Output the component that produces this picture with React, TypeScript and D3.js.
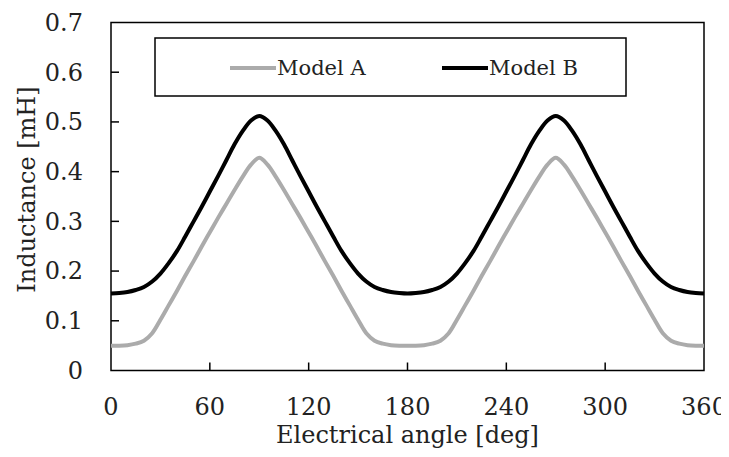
import React, { useRef, useEffect } from 'react';
import * as d3 from 'd3';

// electrical angle, deg (5 deg steps)
const angles = [
  0, 5, 10, 15, 20, 25, 30, 35, 40, 45, 50, 55, 60, 65, 70, 75, 80, 85, 90,
  95, 100, 105, 110, 115, 120, 125, 130, 135, 140, 145, 150, 155, 160, 165, 170, 175, 180,
  185, 190, 195, 200, 205, 210, 215, 220, 225, 230, 235, 240, 245, 250, 255, 260, 265, 270,
  275, 280, 285, 290, 295, 300, 305, 310, 315, 320, 325, 330, 335, 340, 345, 350, 355, 360,
];

// inductance, mH
const modelA = [
  0.050, 0.050, 0.051, 0.054, 0.060, 0.075, 0.102, 0.131, 0.160, 0.190, 0.219, 0.249, 0.278, 0.307, 0.335, 0.363, 0.390, 0.414, 0.428,
  0.414, 0.390, 0.363, 0.335, 0.307, 0.278, 0.249, 0.219, 0.190, 0.160, 0.131, 0.102, 0.075, 0.060, 0.054, 0.051, 0.050, 0.050,
  0.050, 0.051, 0.054, 0.060, 0.075, 0.102, 0.131, 0.160, 0.190, 0.219, 0.249, 0.278, 0.307, 0.335, 0.363, 0.390, 0.414, 0.428,
  0.414, 0.390, 0.363, 0.335, 0.307, 0.278, 0.249, 0.219, 0.190, 0.160, 0.131, 0.102, 0.075, 0.060, 0.054, 0.051, 0.050, 0.050,
];

const modelB = [
  0.155, 0.156, 0.158, 0.162, 0.168, 0.179, 0.195, 0.216, 0.240, 0.269, 0.299, 0.329, 0.360, 0.391, 0.423, 0.455, 0.482, 0.503, 0.512,
  0.503, 0.482, 0.455, 0.423, 0.391, 0.360, 0.329, 0.299, 0.269, 0.240, 0.216, 0.195, 0.179, 0.168, 0.162, 0.158, 0.156, 0.155,
  0.156, 0.158, 0.162, 0.168, 0.179, 0.195, 0.216, 0.240, 0.269, 0.299, 0.329, 0.360, 0.391, 0.423, 0.455, 0.482, 0.503, 0.512,
  0.503, 0.482, 0.455, 0.423, 0.391, 0.360, 0.329, 0.299, 0.269, 0.240, 0.216, 0.195, 0.179, 0.168, 0.162, 0.158, 0.156, 0.155,
];

const xTicks = [0, 60, 120, 180, 240, 300, 360];
const yTicks = [0, 0.1, 0.2, 0.3, 0.4, 0.5, 0.6, 0.7];

const series = [
  { name: 'Model A', values: modelA, color: '#ababab' },
  { name: 'Model B', values: modelB, color: '#000000' },
];

const App = () => {
  const chartRef = useRef(null);

  useEffect(() => {
    const W = 729;
    const H = 457;
    const margin = { top: 22.5, right: 25, bottom: 86.5, left: 111 };
    const width = W - margin.left - margin.right;
    const height = H - margin.top - margin.bottom;
    const font = "'DejaVu Serif', serif";

    d3.select(chartRef.current).select('svg').remove();
    const root = d3
      .select(chartRef.current)
      .append('svg')
      .attr('width', W)
      .attr('height', H)
      .style('font-family', font)
      .style('display', 'block')
      .style('background', '#fff');

    const svg = root.append('g').attr('transform', `translate(${margin.left},${margin.top})`);

    const x = d3.scaleLinear().domain([0, 360]).range([0, width]);
    const y = d3.scaleLinear().domain([0, 0.7]).range([height, 0]);

    // frame
    svg
      .append('rect')
      .attr('x', 0)
      .attr('y', 0)
      .attr('width', width)
      .attr('height', height)
      .attr('fill', 'none')
      .attr('stroke', '#000')
      .attr('stroke-width', 1.5);

    // ticks (inside)
    svg
      .selectAll('.ytick')
      .data(yTicks.slice(1, -1))
      .enter()
      .append('line')
      .attr('x1', 0)
      .attr('x2', 8)
      .attr('y1', d => y(d))
      .attr('y2', d => y(d))
      .attr('stroke', '#000')
      .attr('stroke-width', 1.5);

    svg
      .selectAll('.xtick')
      .data(xTicks.slice(1, -1))
      .enter()
      .append('line')
      .attr('x1', d => x(d))
      .attr('x2', d => x(d))
      .attr('y1', height)
      .attr('y2', height - 8)
      .attr('stroke', '#000')
      .attr('stroke-width', 1.5);

    svg
      .selectAll('.ylabel')
      .data(yTicks)
      .enter()
      .append('text')
      .attr('x', -28)
      .attr('y', d => y(d))
      .attr('dy', '0.35em')
      .attr('text-anchor', 'end')
      .attr('font-size', 24)
      .attr('fill', '#222')
      .text(d => (d === 0 ? '0' : d.toFixed(1)));

    svg
      .selectAll('.xlabel')
      .data(xTicks)
      .enter()
      .append('text')
      .attr('x', d => x(d))
      .attr('y', height + 44)
      .attr('text-anchor', 'middle')
      .attr('font-size', 24)
      .attr('fill', '#222')
      .text(d => d);

    svg
      .append('text')
      .attr('x', width / 2)
      .attr('y', height + 72)
      .attr('text-anchor', 'middle')
      .attr('font-size', 24)
      .attr('fill', '#222')
      .text('Electrical angle [deg]');

    svg
      .append('text')
      .attr('transform', `translate(${-76},${height / 2 - 7}) rotate(-90)`)
      .attr('text-anchor', 'middle')
      .attr('font-size', 24)
      .attr('fill', '#222')
      .text('Inductance [mH]');

    const line = d3
      .line()
      .x((d, i) => x(angles[i]))
      .y(d => y(d))
      .curve(d3.curveCatmullRom);

    series.forEach(s => {
      svg
        .append('path')
        .datum(s.values)
        .attr('d', line)
        .attr('fill', 'none')
        .attr('stroke', s.color)
        .attr('stroke-width', 4)
        .attr('stroke-linejoin', 'round');
    });

    // legend
    const legend = svg.append('g').attr('transform', `translate(${155 - margin.left},${38 - margin.top})`);
    legend
      .append('rect')
      .attr('width', 471)
      .attr('height', 58)
      .attr('fill', '#fff')
      .attr('stroke', '#000')
      .attr('stroke-width', 1.5);

    const legendX = [75, 287];
    series.forEach((s, i) => {
      const g = legend.append('g').attr('transform', `translate(${legendX[i]},30)`);
      g.append('line')
        .attr('x1', 0)
        .attr('x2', 46)
        .attr('stroke', s.color)
        .attr('stroke-width', 4);
      g.append('text')
        .attr('x', 47)
        .attr('dy', '0.35em')
        .attr('font-size', 21)
        .attr('fill', '#222')
        .text(s.name);
    });
  }, []);

  return <div ref={chartRef} style={{ margin: -8 }}></div>;
};

export default App;
